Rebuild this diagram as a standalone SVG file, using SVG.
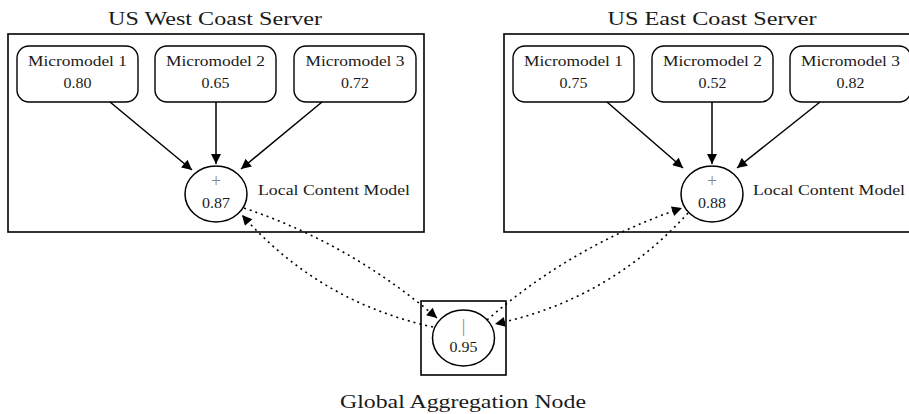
<svg xmlns="http://www.w3.org/2000/svg" width="909" height="414" viewBox="0 0 909 414">
<defs>
<marker id="ah" viewBox="0 0 10 10" refX="10" refY="5" markerWidth="11" markerHeight="10" markerUnits="userSpaceOnUse" orient="auto">
<path d="M0,0 L10,5 L0,10 z" fill="#000"/>
</marker>
<style>
.box{fill:#fff;stroke:#000;stroke-width:1.6}
.mm{fill:#fff;stroke:#000;stroke-width:1.4}
.el{fill:#fff;stroke:#000;stroke-width:1.5}
.t{font-family:"Liberation Serif","DejaVu Serif",serif;font-size:15px;fill:#1a1a1a;text-anchor:middle}
.tl{font-family:"Liberation Serif","DejaVu Serif",serif;font-size:15px;fill:#1a1a1a}
.title{font-family:"Liberation Serif","DejaVu Serif",serif;font-size:18px;fill:#1a1a1a;text-anchor:middle}
.op{font-family:"Liberation Serif","DejaVu Serif",serif;font-size:18px;fill:#888;text-anchor:middle}
.e{fill:none;stroke:#000;stroke-width:1.5}
.d{fill:none;stroke:#000;stroke-width:1.6;stroke-dasharray:2 4}
</style>
</defs>

<g id="west-server">
<rect class="box" x="8" y="34" width="416" height="198"/>
<text class="title" x="215" y="25" textLength="214" lengthAdjust="spacingAndGlyphs">US West Coast Server</text>
</g>
<g id="east-server">
<rect class="box" x="504" y="34" width="416" height="198"/>
<text class="title" x="712" y="25" textLength="209" lengthAdjust="spacingAndGlyphs">US East Coast Server</text>
</g>

<g id="west-mm1">
<rect class="mm" x="17" y="46" width="121" height="56" rx="12"/>
<text class="t" x="77.5" y="66" textLength="99" lengthAdjust="spacingAndGlyphs">Micromodel 1</text>
<text class="t" x="77.5" y="88" textLength="28" lengthAdjust="spacingAndGlyphs">0.80</text>
</g>
<g id="west-mm2">
<rect class="mm" x="155" y="46" width="121" height="56" rx="12"/>
<text class="t" x="215.5" y="66" textLength="99" lengthAdjust="spacingAndGlyphs">Micromodel 2</text>
<text class="t" x="215.5" y="88" textLength="28" lengthAdjust="spacingAndGlyphs">0.65</text>
</g>
<g id="west-mm3">
<rect class="mm" x="294" y="46" width="122" height="56" rx="12"/>
<text class="t" x="355" y="66" textLength="99" lengthAdjust="spacingAndGlyphs">Micromodel 3</text>
<text class="t" x="355" y="88" textLength="28" lengthAdjust="spacingAndGlyphs">0.72</text>
</g>
<g id="west-lcm">
<ellipse class="el" cx="216" cy="194" rx="31" ry="28"/>
<text class="op" x="216" y="187">+</text>
<text class="t" x="216" y="208" textLength="28" lengthAdjust="spacingAndGlyphs">0.87</text>
<text class="tl" x="258" y="195" textLength="152" lengthAdjust="spacingAndGlyphs">Local Content Model</text>
</g>

<g id="east-mm1">
<rect class="mm" x="513" y="46" width="121" height="56" rx="12"/>
<text class="t" x="573.5" y="66" textLength="99" lengthAdjust="spacingAndGlyphs">Micromodel 1</text>
<text class="t" x="573.5" y="88" textLength="28" lengthAdjust="spacingAndGlyphs">0.75</text>
</g>
<g id="east-mm2">
<rect class="mm" x="652" y="46" width="121" height="56" rx="12"/>
<text class="t" x="712.5" y="66" textLength="99" lengthAdjust="spacingAndGlyphs">Micromodel 2</text>
<text class="t" x="712.5" y="88" textLength="28" lengthAdjust="spacingAndGlyphs">0.52</text>
</g>
<g id="east-mm3">
<rect class="mm" x="790" y="46" width="121" height="56" rx="12"/>
<text class="t" x="850.5" y="66" textLength="99" lengthAdjust="spacingAndGlyphs">Micromodel 3</text>
<text class="t" x="850.5" y="88" textLength="28" lengthAdjust="spacingAndGlyphs">0.82</text>
</g>
<g id="east-lcm">
<ellipse class="el" cx="712" cy="194" rx="31" ry="28"/>
<text class="op" x="712" y="187">+</text>
<text class="t" x="712" y="208" textLength="28" lengthAdjust="spacingAndGlyphs">0.88</text>
<text class="tl" x="753" y="195" textLength="152" lengthAdjust="spacingAndGlyphs">Local Content Model</text>
</g>

<g id="global">
<rect class="box" x="421" y="301" width="85" height="74"/>
<ellipse class="el" cx="463.5" cy="338" rx="31" ry="28"/>
<text class="op" x="463.5" y="332">|</text>
<text class="t" x="463.5" y="352" textLength="28" lengthAdjust="spacingAndGlyphs">0.95</text>
<text class="title" x="463" y="408" textLength="246" lengthAdjust="spacingAndGlyphs">Global Aggregation Node</text>
</g>

<g id="connectors">
<line class="e" x1="110" y1="102" x2="192" y2="170" marker-end="url(#ah)"/>
<line class="e" x1="216" y1="102" x2="216" y2="164" marker-end="url(#ah)"/>
<line class="e" x1="322" y1="102" x2="241" y2="169" marker-end="url(#ah)"/>
<line class="e" x1="607" y1="102" x2="683" y2="168" marker-end="url(#ah)"/>
<line class="e" x1="712" y1="102" x2="712" y2="164" marker-end="url(#ah)"/>
<line class="e" x1="820" y1="102" x2="737" y2="168" marker-end="url(#ah)"/>
<path class="d" d="M244,208 Q351,244 437,318" marker-end="url(#ah)"/>
<path class="d" d="M433,327 Q319,302 242,215" marker-end="url(#ah)"/>
<path class="d" d="M487,320 Q573,245 682,208" marker-end="url(#ah)"/>
<path class="d" d="M688,213 Q609,300 495,324" marker-end="url(#ah)"/>
</g>
</svg>
